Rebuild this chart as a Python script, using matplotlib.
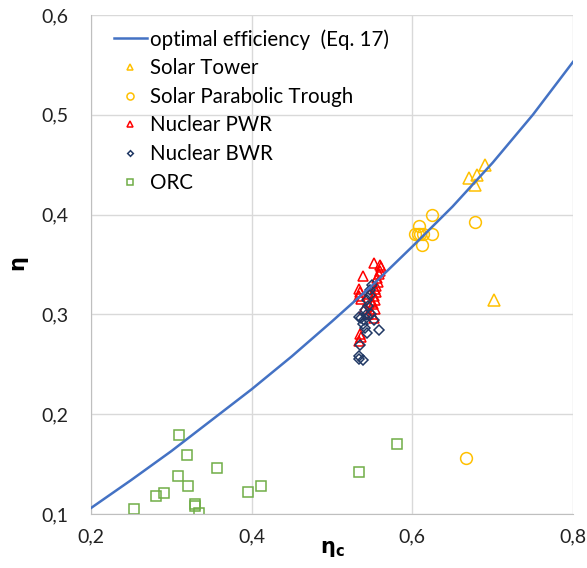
import matplotlib
matplotlib.use("Agg")
import matplotlib.pyplot as plt

plt.rcParams['font.family'] = ['Lato', 'DejaVu Sans']

# ---------------- DATA ----------------
# optimal efficiency curve (Eq. 17)
curve_x = [0.20, 0.25, 0.30, 0.35, 0.40, 0.45, 0.50, 0.55, 0.60, 0.65, 0.70, 0.75, 0.80]
curve_y = [0.106, 0.134, 0.163, 0.194, 0.225, 0.258, 0.293, 0.329, 0.368, 0.408, 0.452, 0.500, 0.553]

tower_x = [0.690, 0.671, 0.680, 0.678, 0.702]
tower_y = [0.450, 0.437, 0.440, 0.430, 0.314]

trough_x = [0.624, 0.608, 0.678, 0.603, 0.607, 0.610, 0.613, 0.624, 0.612, 0.667]
trough_y = [0.400, 0.389, 0.393, 0.381, 0.381, 0.381, 0.381, 0.381, 0.370, 0.156]

pwr_x = [0.552, 0.538, 0.560, 0.561, 0.560, 0.558, 0.556, 0.557, 0.555, 0.553,
         0.555, 0.552, 0.554, 0.551, 0.553, 0.550, 0.552, 0.534, 0.535, 0.534,
         0.536, 0.546, 0.548, 0.535, 0.536, 0.534, 0.545, 0.540]
pwr_y = [0.352, 0.338, 0.350, 0.347, 0.343, 0.340, 0.336, 0.332, 0.328, 0.325,
         0.322, 0.318, 0.314, 0.310, 0.305, 0.300, 0.296, 0.325, 0.322, 0.318,
         0.315, 0.320, 0.312, 0.280, 0.277, 0.273, 0.300, 0.305]

bwr_x = [0.550, 0.547, 0.547, 0.543, 0.541, 0.533, 0.536, 0.540, 0.542, 0.538,
         0.541, 0.544, 0.552, 0.559, 0.535, 0.533, 0.534, 0.539, 0.545, 0.549]
bwr_y = [0.329, 0.324, 0.319, 0.314, 0.304, 0.297, 0.296, 0.294, 0.299, 0.290,
         0.286, 0.281, 0.294, 0.284, 0.269, 0.258, 0.255, 0.254, 0.308, 0.300]

orc_x = [0.310, 0.319, 0.357, 0.308, 0.321, 0.291, 0.281, 0.254, 0.330, 0.330,
         0.334, 0.395, 0.412, 0.533, 0.581]
orc_y = [0.179, 0.159, 0.146, 0.138, 0.128, 0.121, 0.118, 0.105, 0.110, 0.108,
         0.101, 0.122, 0.128, 0.142, 0.170]

x_ticks = [0.2, 0.4, 0.6, 0.8]
x_tick_labels = ['0,2', '0,4', '0,6', '0,8']
y_ticks = [0.1, 0.2, 0.3, 0.4, 0.5, 0.6]
y_tick_labels = ['0,1', '0,2', '0,3', '0,4', '0,5', '0,6']

# ---------------- PLOT ----------------
fig = plt.figure(figsize=(5.87, 5.68), dpi=100)
ax = fig.add_axes([91 / 587, 1 - 514 / 568, 482 / 587, 499 / 568])

mk = dict(linestyle='none', markerfacecolor='none', markeredgewidth=1.1)
ax.plot(tower_x, tower_y, marker='^', markersize=8, color='#FFC000', label='Solar Tower', **mk)
ax.plot(trough_x, trough_y, marker='o', markersize=8.5, color='#FFC000', label='Solar Parabolic Trough', **mk)
ax.plot(pwr_x, pwr_y, marker='^', markersize=6.5, color='#FF0000', label='Nuclear PWR', **mk)
ax.plot(bwr_x, bwr_y, marker='D', markersize=4.8, color='#203864', label='Nuclear BWR', **mk)
ax.plot(orc_x, orc_y, marker='s', markersize=6.5, color='#70AD47', label='ORC', **mk)
ax.plot(curve_x, curve_y, color='#4472C4', linewidth=1.8, label='optimal efficiency  (Eq. 17)', zorder=5)

ax.set_xlim(0.2, 0.8)
ax.set_ylim(0.1, 0.6)
ax.set_xticks(x_ticks)
ax.set_xticklabels(x_tick_labels)
ax.set_yticks(y_ticks)
ax.set_yticklabels(y_tick_labels)
ax.tick_params(length=0, labelsize=14, colors='#222222')
ax.tick_params(axis='x', pad=10)
ax.tick_params(axis='y', pad=16)
ax.grid(True, color='#D9D9D9', linewidth=1)
ax.set_axisbelow(True)
for side in ('top', 'right'):
    ax.spines[side].set_visible(False)
for side in ('left', 'bottom'):
    ax.spines[side].set_color('#BFBFBF')

ax.set_xlabel(r'$\mathbf{\eta_c}$', fontsize=15, labelpad=-4)
ax.set_ylabel(r'$\mathbf{\eta}$', fontsize=15, labelpad=8)

handles, labels = ax.get_legend_handles_labels()
order = [5, 0, 1, 2, 3, 4]
ax.legend([handles[i] for i in order], [labels[i] for i in order],
          loc='upper left', bbox_to_anchor=(0.047, 0.972), frameon=False,
          fontsize=14.8, markerscale=0.6, handlelength=1.6, handletextpad=0.15,
          labelspacing=0.42, borderpad=0, borderaxespad=0)

fig.savefig('out.png', dpi=100)
